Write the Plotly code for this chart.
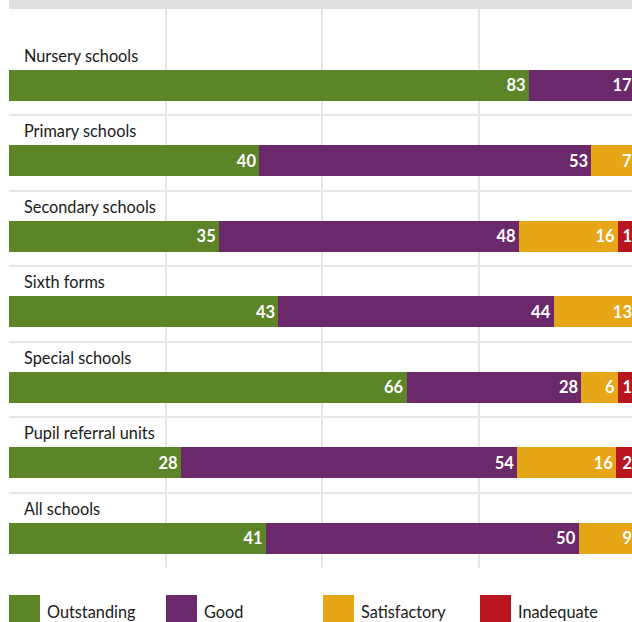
import numpy as np
import plotly.graph_objects as go

# ---------------- data ----------------
categories = ["Nursery schools", "Primary schools", "Secondary schools", "Sixth forms",
              "Special schools", "Pupil referral units", "All schools"]
series_names = ["Outstanding", "Good", "Satisfactory", "Inadequate"]

# bar lengths as drawn in the picture (percent of bar)
outstanding = [83, 40, 33.5, 43, 63.5, 27.4, 41]
good = [17, 53, 47.9, 44, 27.9, 53.8, 50]
satisfactory = [0, 7, 15.9, 13, 5.9, 15.8, 9]
inadequate = [0, 0, 2.7, 0, 2.7, 3.0, 0]

# printed labels
outstanding_labels = ["83", "40", "35", "43", "66", "28", "41"]
good_labels = ["17", "53", "48", "44", "28", "54", "50"]
satisfactory_labels = ["", "7", "16", "13", "6", "16", "9"]
inadequate_labels = ["", "", "1", "", "1", "2", ""]

x_ticks = [25, 50, 75]

# ---------------- style ----------------
colors = ["#5B8527", "#6B286B", "#E6A617", "#B9151E"]
FONT = "Lato"
TEXT_COL = "#1a1a1a"
GRID_COL = "#e6e6e6"

PX_PER_PCT = 6.26
ML, MR, MT, MB = 9, 0, 9, 54
plot_w = round(100 * PX_PER_PCT)      # full 0-100 axis; page clips the last few px
W, H = ML + plot_w + MR, 622
BAND_PX = 75.5
plot_h = H - MT - MB

n = len(categories)
ypos = np.arange(n)[::-1]          # top category gets highest position
bar_w = 31 / BAND_PX
bar_off = -0.5 + (30 - 15.5) / BAND_PX

values = [outstanding, good, satisfactory, inadequate]
labels = [outstanding_labels, good_labels, satisfactory_labels, inadequate_labels]

fig = go.Figure()
for name, vals, labs, col in zip(series_names, values, labels, colors):
    fig.add_trace(go.Bar(
        orientation="h",
        y=ypos,
        x=vals,
        name=name,
        marker=dict(color=col, line=dict(width=0)),
        width=bar_w,
        offset=bar_off,
        text=labs,
        textposition="inside",
        insidetextanchor="end",
        constraintext="none",
        textfont=dict(family=FONT, size=16.5, color="white", weight="bold"),
        showlegend=False,
        hoverinfo="skip",
    ))

# category labels
for cat, yp in zip(categories, ypos):
    fig.add_annotation(
        xref="paper", yref="y", x=0, y=yp + 0.5, xshift=13, yshift=-15.5,
        text=cat, showarrow=False, xanchor="left", yanchor="middle",
        font=dict(family=FONT, size=16.3, color=TEXT_COL),
    )

# top grey band
fig.add_shape(type="rect", xref="paper", yref="paper", x0=0, x1=1,
              y0=1, y1=1 + MT / plot_h, fillcolor="#E0DFDD", line=dict(width=0),
              layer="above")

# legend (manual, large squares)
sq = 31
for i, (name, col) in enumerate(zip(series_names, colors)):
    x0_px = 157 * i
    fig.add_shape(type="rect", xref="paper", yref="paper",
                  x0=x0_px / plot_w, x1=(x0_px + sq) / plot_w,
                  y0=-(595 - (H - MB)) / plot_h, y1=-(626 - (H - MB)) / plot_h,
                  fillcolor=col, line=dict(width=0))
    fig.add_annotation(xref="paper", yref="paper",
                       x=(x0_px + sq + 5) / plot_w, y=-(611 - (H - MB)) / plot_h,
                       text=name, showarrow=False, xanchor="left", yanchor="middle",
                       font=dict(family=FONT, size=16.3, color=TEXT_COL))

fig.update_layout(
    width=W, height=H,
    margin=dict(l=ML, r=MR, t=MT, b=MB, pad=0),
    barmode="stack",
    paper_bgcolor="white", plot_bgcolor="white",
    xaxis=dict(range=[0, 100], tickvals=x_ticks, showticklabels=False,
               showgrid=True, gridcolor=GRID_COL, gridwidth=1.5, zeroline=False,
               showline=False, fixedrange=True),
    yaxis=dict(range=[-0.5, -0.5 + plot_h / BAND_PX],
               tickvals=[k - 0.5 for k in range(n)], showticklabels=False,
               showgrid=True, gridcolor=GRID_COL, gridwidth=1.5, zeroline=False,
               showline=False, fixedrange=True),
    font=dict(family=FONT),
)

fig.write_html(
    "out.html",
    config={"displayModeBar": False},
    post_script="document.body.style.margin='0';document.body.style.overflow='hidden';",
)
